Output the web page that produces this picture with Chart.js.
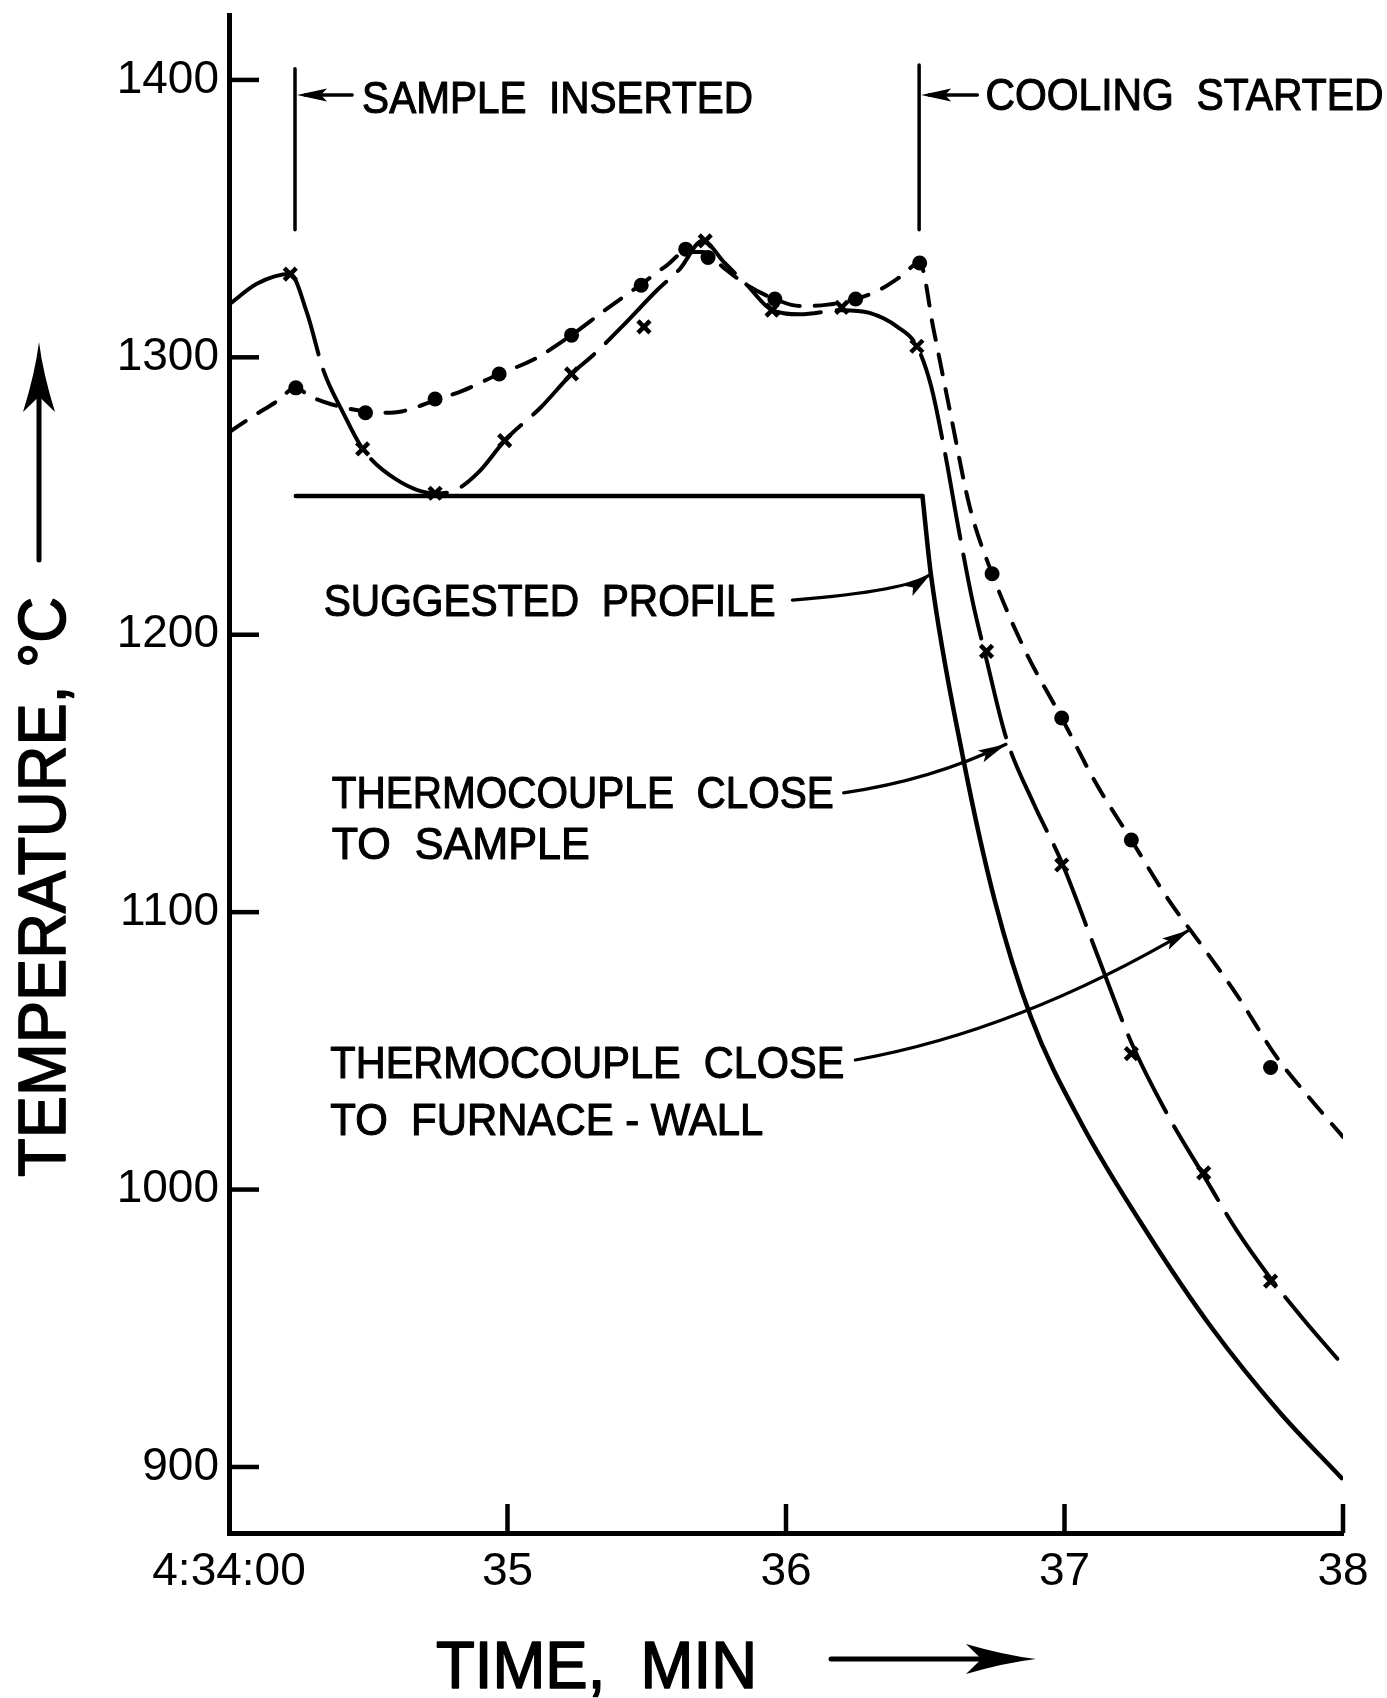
<!DOCTYPE html>
<html><head><meta charset="utf-8">
<script src="https://cdn.jsdelivr.net/npm/chart.js@4.4.1/dist/chart.umd.min.js"></script>
<style>html,body{margin:0;padding:0;background:#fff;}canvas{display:block}</style>
</head><body>
<canvas id="c" width="1387" height="1698"></canvas>
<script>
// ---- data (time in minutes after 4:34:00 -> 34..38, temperature in deg C)
const xTickValues = [34, 35, 36, 37, 38];
const xTickLabels = ['4:34:00', '35', '36', '37', '38'];
const yTickValues = [900, 1000, 1100, 1200, 1300, 1400];

// suggested profile: flat hold, then cooling (index 1 is the corner)
const profileTime = [34.24, 36.49, 36.52, 36.635, 36.75, 36.88, 37.06, 37.30, 37.53, 37.77, 37.995];
const profileTemp = [1250, 1250, 1222, 1156, 1104, 1062, 1024, 984, 950, 920, 896];

const sampleCurveTime = [34.0, 34.1, 34.22, 34.28, 34.34, 34.41, 34.48, 34.6, 34.74, 34.81, 34.9, 34.99, 35.12, 35.23, 35.31, 35.42, 35.535, 35.62, 35.70, 35.78, 35.86, 35.95, 36.05, 36.2, 36.3, 36.4, 36.47, 36.52, 36.57, 36.62, 36.67, 36.72, 36.79, 36.89, 36.99, 37.12, 37.24, 37.37, 37.5, 37.62, 37.74, 37.86, 37.98];
const sampleCurveTemp = [1319, 1326.5, 1330, 1316, 1295, 1280, 1267, 1256, 1251, 1252, 1259, 1270, 1282, 1294, 1301, 1312, 1324, 1332, 1342, 1334, 1326, 1317, 1315.5, 1317, 1316, 1311, 1304, 1290, 1266, 1238, 1212, 1191, 1163, 1139, 1118, 1084, 1053, 1027, 1005, 985, 968, 953, 939];
const sampleMarkTime = [34.22, 34.48, 34.74, 34.99, 35.23, 35.49, 35.71, 35.95, 36.20, 36.47, 36.72, 36.99, 37.24, 37.50, 37.74];
const sampleMarkTemp = [1330, 1267, 1251, 1270, 1294, 1311, 1342, 1317, 1318, 1304, 1194, 1117, 1049, 1006, 967];

const wallCurveTime = [34.0, 34.09, 34.17, 34.24, 34.29, 34.37, 34.49, 34.55, 34.62, 34.74, 34.84, 34.97, 35.09, 35.23, 35.35, 35.475, 35.57, 35.64, 35.70, 35.78, 35.86, 35.96, 36.05, 36.15, 36.25, 36.33, 36.41, 36.48, 36.53, 36.59, 36.66, 36.74, 36.86, 36.99, 37.11, 37.24, 37.37, 37.5, 37.62, 37.76, 37.88, 38.0];
const wallCurveTemp = [1273, 1279, 1284, 1289, 1286, 1283, 1280.5, 1280, 1280.5, 1284.5, 1288, 1294, 1299, 1308, 1317, 1326, 1333, 1338, 1338, 1332, 1326, 1321, 1318.5, 1319, 1321, 1324, 1329, 1334, 1310, 1280, 1246, 1222, 1194, 1170, 1147, 1126, 1105, 1087, 1070, 1048, 1033, 1019];
const wallMarkTime = [34.24, 34.49, 34.74, 34.97, 35.23, 35.48, 35.64, 35.72, 35.96, 36.25, 36.48, 36.74, 36.99, 37.24, 37.74];
const wallMarkTemp = [1289, 1280, 1285, 1294, 1308, 1326, 1339, 1336, 1321, 1321, 1334, 1222, 1170, 1126, 1044];

const pts = (xs, ys) => xs.map((x, i) => ({x: x, y: ys[i]}));

const FONT = '"Liberation Sans", Arial, sans-serif';

function fitText(ctx, str, x, y, size, width, rot) {
  ctx.save();
  ctx.font = size + 'px ' + FONT;
  ctx.fillStyle = '#000';
  ctx.strokeStyle = '#000';
  ctx.textAlign = 'left';
  ctx.textBaseline = 'alphabetic';
  const m = ctx.measureText(str).width;
  ctx.translate(x, y);
  if (rot) ctx.rotate(rot);
  ctx.scale(width / m, 1);
  ctx.fillText(str, 0, 0);
  ctx.lineWidth = size * 0.025;
  ctx.lineJoin = 'round';
  ctx.strokeText(str, 0, 0);
  ctx.restore();
}
function head(ctx, tx, ty, fx, fy, len, hw) {
  const dx = tx - fx, dy = ty - fy, d = Math.hypot(dx, dy);
  const ux = dx / d, uy = dy / d, px = -uy, py = ux;
  const bx = tx - ux * len, by = ty - uy * len;
  ctx.beginPath();
  ctx.moveTo(tx, ty);
  ctx.lineTo(bx + px * hw, by + py * hw);
  ctx.lineTo(bx + ux * len * 0.2, by + uy * len * 0.2);
  ctx.lineTo(bx - px * hw, by - py * hw);
  ctx.closePath();
  ctx.fill();
}
function bigHead(ctx, tx, ty, ux, uy, len, hw) {
  const px = -uy, py = ux;
  const bx = tx - ux * len, by = ty - uy * len;
  ctx.beginPath();
  ctx.moveTo(tx, ty);
  ctx.quadraticCurveTo(bx + ux * len * 0.55 + px * hw * 0.25, by + uy * len * 0.55 + py * hw * 0.25, bx + px * hw, by + py * hw);
  ctx.lineTo(bx + ux * len * 0.22, by + uy * len * 0.22);
  ctx.lineTo(bx - px * hw, by - py * hw);
  ctx.quadraticCurveTo(bx + ux * len * 0.55 - px * hw * 0.25, by + uy * len * 0.55 - py * hw * 0.25, tx, ty);
  ctx.closePath();
  ctx.fill();
}

const decor = {
  id: 'decor',
  beforeDraw(chart) {
    const ctx = chart.ctx;
    ctx.save(); ctx.fillStyle = '#fff'; ctx.fillRect(0, 0, chart.width, chart.height); ctx.restore();
  },
  afterDraw(chart) {
    const ctx = chart.ctx, xs = chart.scales.x, ys = chart.scales.y, ca = chart.chartArea;
    const X = v => xs.getPixelForValue(v), Y = v => ys.getPixelForValue(v);
    ctx.save();
    ctx.strokeStyle = '#000'; ctx.fillStyle = '#000';
    // inward tick marks
    ctx.lineWidth = 4.5; ctx.lineCap = 'butt';
    yTickValues.forEach(v => { ctx.beginPath(); ctx.moveTo(ca.left, Y(v)); ctx.lineTo(ca.left + 30, Y(v)); ctx.stroke(); });
    xTickValues.slice(1).forEach(v => { ctx.beginPath(); ctx.moveTo(X(v), ca.bottom); ctx.lineTo(X(v), ca.bottom - 29); ctx.stroke(); });

    // event markers
    ctx.lineWidth = 3.5; ctx.lineCap = 'round';
    const marker = (t, t2, yTop, yBot, yArr) => {
      ctx.beginPath(); ctx.moveTo(X(t), Y(yTop)); ctx.lineTo(X(t), Y(yBot)); ctx.stroke();
      ctx.beginPath(); ctx.moveTo(X(t2), Y(yArr)); ctx.lineTo(X(t) + 10, Y(yArr)); ctx.stroke();
      head(ctx, X(t) + 2, Y(yArr), X(t2), Y(yArr), 30, 6.5);
    };
    marker(34.237, 34.442, 1404, 1346, 1394.6);
    marker(36.478, 36.687, 1405.4, 1346, 1394.6);
    fitText(ctx, 'SAMPLE  INSERTED', X(34.478), Y(1388.1), 44, 391);
    fitText(ctx, 'COOLING  STARTED', X(36.716), Y(1389.2), 44, 398);

    // labels with leader arrows
    fitText(ctx, 'SUGGESTED  PROFILE', X(34.34), Y(1206.8), 44, 452);
    fitText(ctx, 'THERMOCOUPLE  CLOSE', X(34.369), Y(1137.6), 44, 502);
    fitText(ctx, 'TO  SAMPLE', X(34.369), Y(1119.2), 44, 258);
    fitText(ctx, 'THERMOCOUPLE  CLOSE', X(34.364), Y(1040.2), 44, 514);
    fitText(ctx, 'TO  FURNACE - WALL', X(34.364), Y(1019.7), 44, 433);

    const leader = (a, c, b) => {
      ctx.lineWidth = 3.2;
      const ax = X(a[0]), ay = Y(a[1]), cx = X(c[0]), cy = Y(c[1]), bx = X(b[0]), by = Y(b[1]);
      ctx.beginPath(); ctx.moveTo(ax, ay); ctx.quadraticCurveTo(cx, cy, bx, by); ctx.stroke();
      head(ctx, bx, by, cx, cy, 28, 6.5);
    };
    leader([36.023, 1212.5], [36.44, 1215.8], [36.52, 1221.9]);
    leader([36.207, 1143], [36.52, 1147.5], [36.79, 1160.5]);
    leader([36.249, 1046.7], [36.836, 1057.2], [37.449, 1093.6]);

    // axis titles
    fitText(ctx, 'TIME,  MIN', 436, 1688, 66, 321);
    ctx.lineWidth = 5; ctx.lineCap = 'round';
    ctx.beginPath(); ctx.moveTo(831, 1659); ctx.lineTo(990, 1659); ctx.stroke();
    bigHead(ctx, 1036, 1659, 1, 0, 70, 15);

    fitText(ctx, 'TEMPERATURE, °C', 65, 1177, 66, 580, -Math.PI / 2);
    ctx.beginPath(); ctx.moveTo(39, 560); ctx.lineTo(39, 390); ctx.stroke();
    bigHead(ctx, 39, 342, 0, -1, 70, 16);
    ctx.restore();
  }
};

const lineBase = {type: 'line', borderColor: '#000', borderWidth: 4, pointRadius: 0, fill: false,
  cubicInterpolationMode: 'monotone', borderCapStyle: 'round', borderJoinStyle: 'round'};
const profilePts = pts(profileTime, profileTemp);

new Chart(document.getElementById('c'), {
  data: {
    datasets: [
      Object.assign({}, lineBase, {label: 'Suggested profile (hold)', data: profilePts.slice(0, 2), borderWidth: 4.5, cubicInterpolationMode: 'default', tension: 0}),
      Object.assign({}, lineBase, {label: 'Suggested profile (cooling)', data: profilePts.slice(1), borderWidth: 4.5}),
      Object.assign({}, lineBase, {label: 'Thermocouple close to sample', data: pts(sampleCurveTime, sampleCurveTemp),
        segment: {borderDash: c => (c.p1DataIndex <= 2 ? [] : [86, 16])}}),
      Object.assign({}, lineBase, {label: 'Thermocouple close to furnace-wall', data: pts(wallCurveTime, wallCurveTemp), borderDash: [20, 15]}),
      {type: 'scatter', label: 'sample points', data: pts(sampleMarkTime, sampleMarkTemp), pointStyle: 'crossRot',
        pointRadius: 8.5, borderWidth: 4.5, borderColor: '#000', backgroundColor: '#000'},
      {type: 'scatter', label: 'wall points', data: pts(wallMarkTime, wallMarkTemp), pointStyle: 'circle',
        pointRadius: 7.5, borderWidth: 0, borderColor: '#000', backgroundColor: '#000'}
    ]
  },
  options: {
    responsive: false, animation: false, devicePixelRatio: 1, events: [],
    layout: {padding: {left: 0, right: 44, top: 15, bottom: 0}},
    plugins: {legend: {display: false}, tooltip: {enabled: false}, title: {display: false}},
    scales: {
      x: {
        type: 'linear', min: 34, max: 38,
        afterBuildTicks: s => { s.ticks = xTickValues.map(v => ({value: v})); },
        afterFit: s => { s.height = 165; s.paddingLeft = 0; s.paddingRight = 0; },
        ticks: {color: '#000', font: {family: FONT, size: 46}, padding: 12, maxRotation: 0, autoSkip: false,
          callback: v => xTickLabels[xTickValues.indexOf(v)]},
        grid: {display: false, drawTicks: false},
        border: {display: true, color: '#000', width: 5}
      },
      y: {
        type: 'linear', min: 876.2, max: 1423.4,
        afterBuildTicks: s => { s.ticks = yTickValues.map(v => ({value: v})); },
        afterFit: s => { s.width = 229; s.paddingTop = 0; s.paddingBottom = 0; },
        ticks: {color: '#000', font: {family: FONT, size: 46}, padding: 10, autoSkip: false,
          callback: v => String(v)},
        grid: {display: false, drawTicks: false},
        border: {display: true, color: '#000', width: 5}
      }
    }
  },
  plugins: [decor]
});
</script>
</body></html>
